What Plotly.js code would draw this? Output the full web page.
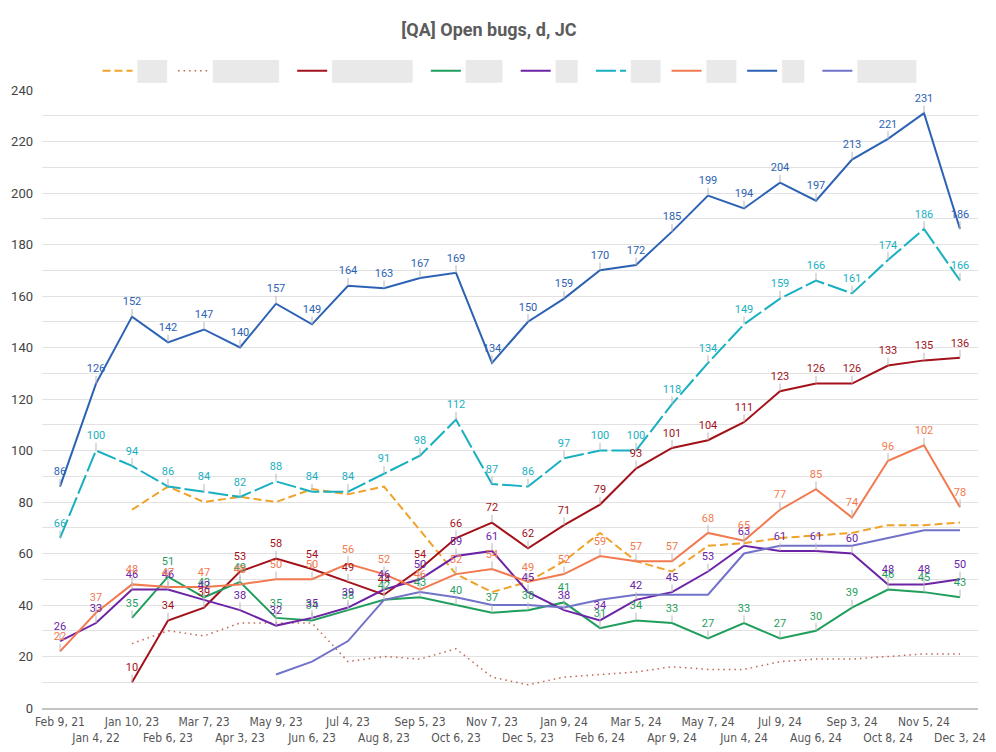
<!DOCTYPE html>
<html>
<head>
<meta charset="utf-8">
<script src="https://cdn.plot.ly/plotly-3.0.1.min.js"></script>
<style>html,body{margin:0;padding:0;background:#fff;}#chart{width:996px;height:752px;}</style>
</head>
<body>
<div id="chart"></div>
<script>
const categories = ["Feb 9, 21","Jan 4, 22","Jan 10, 23","Feb 6, 23","Mar 7, 23","Apr 3, 23","May 9, 23","Jun 6, 23","Jul 4, 23","Aug 8, 23","Sep 5, 23","Oct 6, 23","Nov 7, 23","Dec 5, 23","Jan 9, 24","Feb 6, 24","Mar 5, 24","Apr 9, 24","May 7, 24","Jun 4, 24","Jul 9, 24","Aug 6, 24","Sep 3, 24","Oct 8, 24","Nov 5, 24","Dec 3, 24"];

const seriesOrange   = [null,null,77,86,80,82,80,85,83,86,69,52,45,49,57,68,57,53,63,64,66,67,68,71,71,72];
const seriesDotted   = [null,null,25,30,28,33,33,33,18,20,19,23,12,9,12,13,14,16,15,15,18,19,19,20,21,21];
const seriesDarkRed  = [null,null,10,34,39,53,58,54,49,44,54,66,72,62,71,79,93,101,104,111,123,126,126,133,135,136];
const seriesGreen    = [null,null,35,51,43,49,35,34,38,42,43,40,37,38,41,31,34,33,27,33,27,30,39,46,45,43];
const seriesPurple   = [26,33,46,46,42,38,32,35,39,46,50,59,61,45,38,34,42,45,53,63,61,61,60,48,48,50];
const seriesTeal     = [66,100,94,86,84,82,88,84,84,91,98,112,87,86,97,100,100,118,134,149,159,166,161,174,186,166];
const seriesSalmon   = [22,37,48,47,47,48,50,50,56,52,46,52,54,49,52,59,57,57,68,65,77,85,74,96,102,78];
const seriesBlue     = [86,126,152,142,147,140,157,149,164,163,167,169,134,150,159,170,172,185,199,194,204,197,213,221,231,186];
const seriesLavender = [null,null,null,null,null,null,13,18,26,42,45,43,40,40,39,42,44,44,44,60,63,63,63,66,69,69];

// legend names are redacted in the reference: shown as light grey blocks
const B = "\u2588", H = "\u258C";
const legendNames = [B+B, B+B+B+B+H, B+B+B+B+B+H, B+B+H, B+H, B+B, B+B, B+H, B+B+B+B];

const tickLabels = categories.map((c, i) => (i % 2 ? "<br>" + c : c));

const defs = [
  {y: seriesOrange,   color: "#f0a22a", dash: "8px,4px",   width: 2,   labels: false},
  {y: seriesDotted,   color: "#c4644e", dash: "1.5px,4px", width: 1.5, labels: false},
  {y: seriesDarkRed,  color: "#a3111a", dash: "solid",     width: 2,   labels: true},
  {y: seriesGreen,    color: "#1f9e5c", dash: "solid",     width: 2,   labels: true},
  {y: seriesPurple,   color: "#6c23a6", dash: "solid",     width: 2,   labels: true},
  {y: seriesTeal,     color: "#18b0c0", dash: "20px,4px",  width: 2,   labels: true},
  {y: seriesSalmon,   color: "#f27a50", dash: "solid",     width: 2,   labels: true},
  {y: seriesBlue,     color: "#2c62b4", dash: "solid",     width: 2,   labels: true},
  {y: seriesLavender, color: "#7272c9", dash: "solid",     width: 2,   labels: false}
];

const traces = [];
defs.forEach((d, k) => {
  traces.push({
    type: "scatter", mode: "lines", x: categories, y: d.y,
    name: legendNames[k], connectgaps: false,
    line: {color: d.color, width: d.width, dash: d.dash},
    hoverinfo: "skip"
  });
});
defs.forEach((d) => {
  if (!d.labels) return;
  traces.push({
    type: "scatter", mode: "markers+text", x: categories, y: d.y,
    showlegend: false, hoverinfo: "skip",
    text: d.y.map(v => (v === null ? "" : String(v))),
    textposition: "top center",
    textfont: {family: "Roboto, sans-serif", size: 11, color: d.color},
    marker: {size: 12, color: "rgba(0,0,0,0)"},
    error_y: {type: "constant", symmetric: false, value: 3, valueminus: 0, width: 0, thickness: 1, color: "#b8b8b8"},
    cliponaxis: false
  });
});

const layout = {
  width: 996, height: 752,
  margin: {l: 42, r: 18, t: 89, b: 44},
  paper_bgcolor: "#fff", plot_bgcolor: "#fff",
  title: {
    text: "<b>[QA] Open bugs, d, JC</b>",
    font: {family: "Roboto, sans-serif", size: 18, color: "#5c5c5c"},
    x: 489 / 996, xref: "container", xanchor: "center",
    y: 1 - 30 / 752, yref: "container", yanchor: "middle"
  },
  showlegend: true,
  legend: {
    orientation: "h", x: 0.5, xanchor: "center",
    y: 1 - 71 / 752, yref: "container", yanchor: "middle",
    font: {family: "DejaVu Sans", size: 19, color: "#e9e9e9"},
    itemwidth: 30
  },
  xaxis: {
    type: "category", tickvals: categories, ticktext: tickLabels,
    range: [-0.5, 25.5], showgrid: false, zeroline: false,
    showline: true, linecolor: "#c4c4c4", linewidth: 2,
    ticks: "", tickangle: 0, ticklabelstandoff: 2,
    tickfont: {family: "DejaVu Sans Condensed, DejaVu Sans, sans-serif", size: 12, color: "#555"}
  },
  yaxis: {
    range: [0, 240], dtick: 20, tick0: 0,
    showgrid: true, gridcolor: "#e2e2e2", gridwidth: 1,
    minor: {dtick: 10, showgrid: true, gridcolor: "#e2e2e2", gridwidth: 1},
    zeroline: false, showline: false, ticks: "", ticklabelstandoff: 8,
    tickfont: {family: "Roboto, sans-serif", size: 13, color: "#444"}
  }
};

Plotly.newPlot("chart", traces, layout, {displayModeBar: false, staticPlot: true});
</script>
</body>
</html>
